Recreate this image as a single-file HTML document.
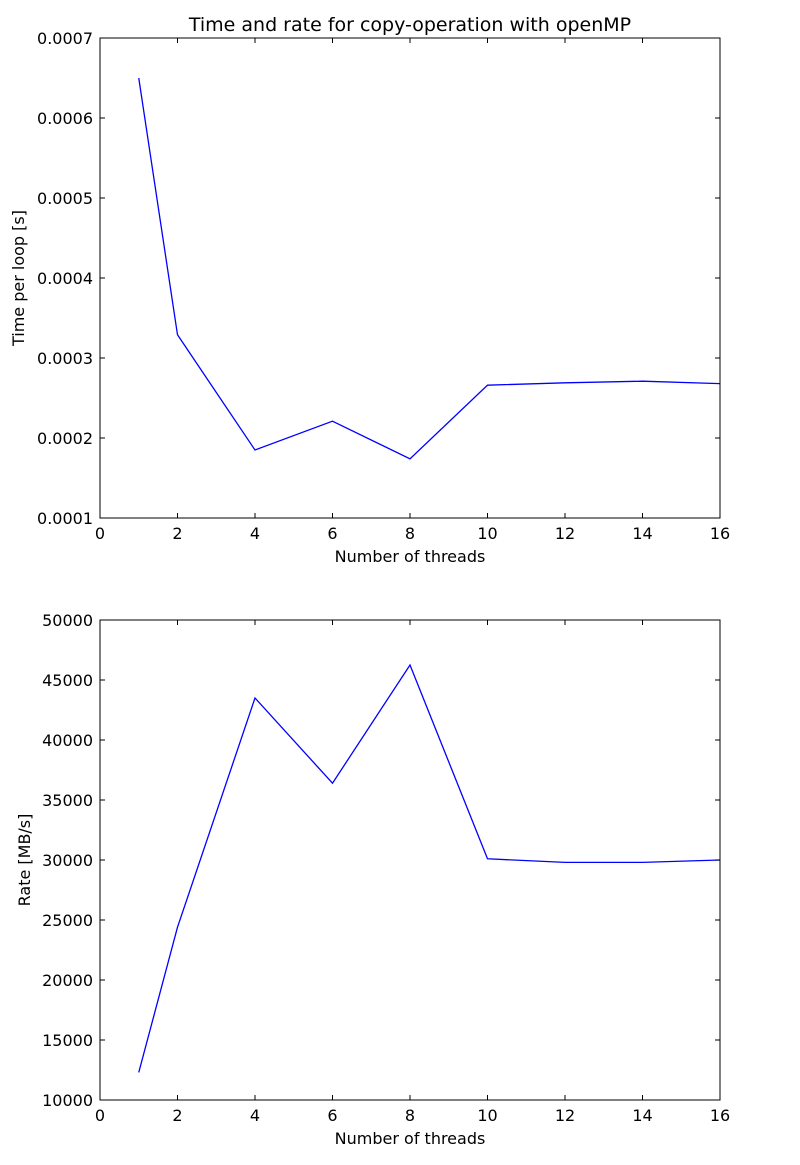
<!DOCTYPE html>
<html><head><meta charset="utf-8"><style>
body{margin:0;background:#fff;}
svg text{font-family:"DejaVu Sans","Liberation Sans",sans-serif;font-size:16px;fill:#000;}
</style></head><body>
<svg width="800" height="1160" xmlns="http://www.w3.org/2000/svg">
<rect width="800" height="1160" fill="#fff"/>
<text x="410" y="31" text-anchor="middle" style="font-size:19px">Time and rate for copy-operation with openMP</text>
<g id="top"></g>
<g id="bot"></g>
</svg>
<script>
const threads=[1,2,4,6,8,10,12,14,16];
const timeValues=[0.00065,0.000329,0.000185,0.000221,0.000174,0.000266,0.000269,0.000271,0.000268];
const rateValues=[12300,24400,43500,36400,46250,30100,29800,29800,30000];
const xTicks=[0,2,4,6,8,10,12,14,16];
const timeTicks=["0.0001","0.0002","0.0003","0.0004","0.0005","0.0006","0.0007"];
const rateTicks=["10000","15000","20000","25000","30000","35000","40000","45000","50000"];
const NS="http://www.w3.org/2000/svg";
function mk(p,t,a){const e=document.createElementNS(NS,t);for(const k in a)e.setAttribute(k,a[k]);p.appendChild(e);return e;}
function plot(g,top,ymin,ymax,yticks,vals,ylabel,ylx){
  const L=100,R=720,T=top,B=top+480;
  const sx=v=>L+(v-0)/16*(R-L), sy=v=>B-(v-ymin)/(ymax-ymin)*(B-T);
  const pts=threads.map((t,i)=>sx(t)+","+sy(vals[i])).join(" ");
  const line=mk(g,"polyline",{points:pts,fill:"none",stroke:"#0000ff","stroke-width":1.3});
  
  
  const fr=mk(g,"rect",{x:L,y:T,width:R-L,height:B-T,fill:"none",stroke:"#000","stroke-width":1});
  
  
  xTicks.forEach(v=>{const x=sx(v);
    mk(g,"line",{x1:x,x2:x,y1:B,y2:B-5,stroke:"#000"});mk(g,"line",{x1:x,x2:x,y1:T,y2:T+5,stroke:"#000"});
    const t=mk(g,"text",{x:x,y:B+21,"text-anchor":"middle"});t.textContent=v;
    
    });
  yticks.forEach(s=>{const y=sy(parseFloat(s));
    mk(g,"line",{x1:L,x2:L+5,y1:y,y2:y,stroke:"#000"});mk(g,"line",{x1:R,x2:R-5,y1:y,y2:y,stroke:"#000"});
    const t=mk(g,"text",{x:L-7,y:y+6,"text-anchor":"end"});t.textContent=s;
    
    });
  const xl=mk(g,"text",{x:410,y:B+44,"text-anchor":"middle"});xl.textContent="Number of threads";
  
  
  const yl=mk(g,"text",{x:ylx,y:(T+B)/2,"text-anchor":"middle",transform:`rotate(-90 ${ylx} ${(T+B)/2})`});yl.textContent=ylabel;
  
  
}
plot(document.getElementById("top"),38,0.0001,0.0007,timeTicks,timeValues,"Time per loop [s]",24);
plot(document.getElementById("bot"),620,10000,50000,rateTicks,rateValues,"Rate [MB/s]",30);
</script>
</body></html>
